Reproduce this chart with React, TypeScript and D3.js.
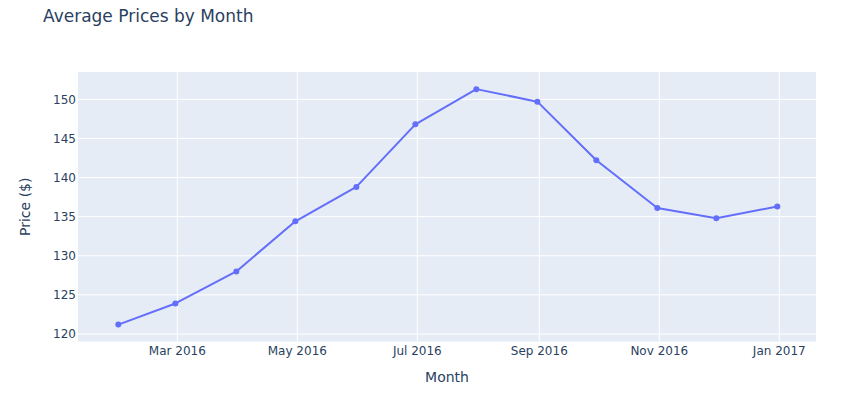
import React from "react";
import * as d3 from "d3";

const months: string[] = [
  "2016-01-31", "2016-02-29", "2016-03-31", "2016-04-30", "2016-05-31", "2016-06-30",
  "2016-07-31", "2016-08-31", "2016-09-30", "2016-10-31", "2016-11-30", "2016-12-31",
];
const prices: number[] = [121.2, 123.9, 128.0, 134.4, 138.8, 146.8, 151.3, 149.7, 142.2, 136.1, 134.8, 136.3];
const xTicks: string[] = ["2016-03-01", "2016-05-01", "2016-07-01", "2016-09-01", "2016-11-01", "2017-01-01"];
const yTicks: number[] = [120, 125, 130, 135, 140, 145, 150];

const W = 850;
const H = 401;
const M = { left: 78, right: 34, top: 72, bottom: 59.5 };
const FONT = '"DejaVu Sans", Verdana, sans-serif';
const TXT = "#2a3f5f";

export default function App() {
  const parse = d3.utcParse("%Y-%m-%d");
  const dates = months.map((m) => parse(m)!);
  const data = dates.map((d, i) => ({ d, v: prices[i] }));

  const x = d3
    .scaleUtc()
    .domain([new Date(Date.UTC(2016, 0, 10, 12)), new Date(Date.UTC(2017, 0, 19, 16))])
    .range([M.left, W - M.right]);
  const y = d3
    .scaleLinear()
    .domain([119.04, 153.49])
    .range([H - M.bottom, M.top]);

  const line = d3
    .line<{ d: Date; v: number }>()
    .x((p) => x(p.d))
    .y((p) => y(p.v));

  const fmt = d3.utcFormat("%b %Y");
  const plotW = W - M.left - M.right;
  const plotH = H - M.top - M.bottom;

  return (
    <svg
      width={W}
      height={H}
      style={{ position: "absolute", left: 0, top: 0, background: "#fff" }}
      fontFamily={FONT}
    >
      <rect x={M.left} y={M.top} width={plotW} height={plotH} fill="#e5ecf6" />
      {yTicks.map((t) => (
        <line key={"gy" + t} x1={M.left} x2={W - M.right} y1={y(t)} y2={y(t)} stroke="#fff" strokeWidth={1} />
      ))}
      {xTicks.map((t) => {
        const d = parse(t)!;
        return (
          <line key={"gx" + t} x1={x(d)} x2={x(d)} y1={M.top} y2={H - M.bottom} stroke="#fff" strokeWidth={1} />
        );
      })}
      <path d={line(data) || ""} fill="none" stroke="#636efa" strokeWidth={2} strokeLinejoin="round" />
      {data.map((p, i) => (
        <circle key={"pt" + i} cx={x(p.d)} cy={y(p.v)} r={3} fill="#636efa" />
      ))}
      {yTicks.map((t) => (
        <text key={"ty" + t} x={M.left - 2} y={y(t) + 4.2} textAnchor="end" fontSize={12} fill={TXT}>
          {t}
        </text>
      ))}
      {xTicks.map((t) => {
        const d = parse(t)!;
        return (
          <text key={"tx" + t} x={x(d)} y={355} textAnchor="middle" fontSize={12} fill={TXT}>
            {fmt(d)}
          </text>
        );
      })}
      <text x={M.left + plotW / 2} y={382} textAnchor="middle" fontSize={14} fill={TXT}>
        Month
      </text>
      <text
        transform={`translate(${30},${M.top + plotH / 2}) rotate(-90)`}
        textAnchor="middle"
        fontSize={14}
        fill={TXT}
      >
        Price ($)
      </text>
      <text x={43} y={22} fontSize={17} fill={TXT}>
        Average Prices by Month
      </text>
    </svg>
  );
}
